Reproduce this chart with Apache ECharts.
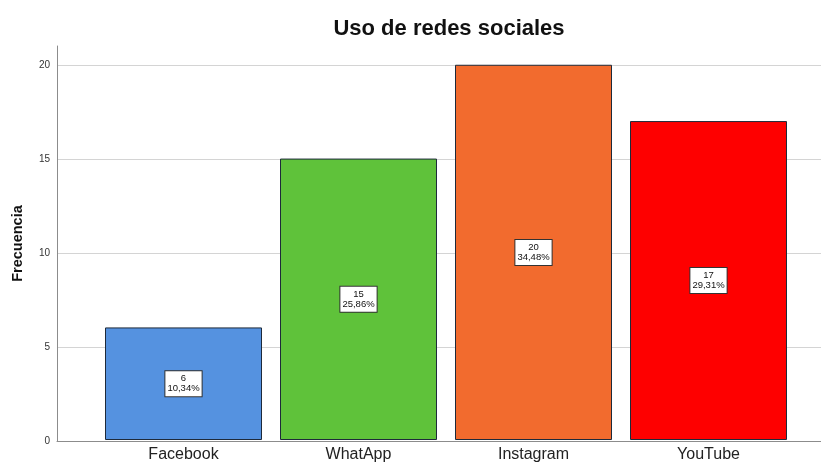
<!DOCTYPE html>
<html>
<head>
<meta charset="utf-8">
<script src="https://cdn.jsdelivr.net/npm/echarts@6/dist/echarts.min.js"></script>
<style>
html,body{margin:0;padding:0;background:#fff;}
#c{width:821px;height:463px;}
</style>
</head>
<body>
<div id="c"></div>
<script>
const categories = ["Facebook", "WhatApp", "Instagram", "YouTube"];
const counts = [6, 15, 20, 17];
const percents = ["10,34%", "25,86%", "34,48%", "29,31%"];
const colors = ["#5592e0", "#5fc23a", "#f26b2e", "#fe0000"];

const chart = echarts.init(document.getElementById('c'));
const font = '"Liberation Sans", Arial, sans-serif';
chart.setOption({
  animation: false,
  textStyle: {fontFamily: font},
  title: {
    text: "Uso de redes sociales",
    left: 444, top: 13, textAlign: 'center',
    textStyle: {fontSize: 22, fontWeight: 'bold', color: '#111', fontFamily: font}
  },
  grid: [
    {left: 57, right: 0, top: 46, bottom: 22},
    {left: 96, right: 25, top: 46, bottom: 22}
  ],
  xAxis: [
    {gridIndex: 0, type: 'value', min: 0, max: 1, show: true,
     axisLine: {show: true, onZero: false, lineStyle: {color: '#8c8c8c', width: 1}},
     axisTick: {show: false}, axisLabel: {show: false}, splitLine: {show: false}},
    {gridIndex: 1, type: 'category', data: categories,
     axisLine: {show: false}, axisTick: {show: false},
     axisLabel: {fontSize: 16, color: '#222', margin: 7, fontFamily: font}}
  ],
  yAxis: [
    {gridIndex: 0, type: 'value', min: 0, max: 21, interval: 5,
     name: 'Frecuencia', nameLocation: 'middle', nameGap: 32,
     nameTextStyle: {fontSize: 14.5, fontWeight: 'bold', color: '#111', fontFamily: font},
     axisLine: {show: true, lineStyle: {color: '#8c8c8c', width: 1}},
     axisTick: {show: false},
     axisLabel: {fontSize: 10, color: '#333', margin: 7, fontFamily: font,
                 showMaxLabel: false},
     splitLine: {show: true, showMaxLine: false, lineStyle: {color: '#d4d4d4', width: 1}}},
    {gridIndex: 1, type: 'value', min: 0, max: 21, interval: 5, show: false,
     splitLine: {show: false}}
  ],
  series: [{
    type: 'bar',
    xAxisIndex: 1, yAxisIndex: 1,
    barWidth: 157,
    data: counts.map((v, i) => ({
      value: v,
      itemStyle: {color: colors[i], borderColor: '#1e2a3a', borderWidth: 1}
    })),
    label: {
      show: true, position: 'inside',
      formatter: p => p.value + '\n' + percents[p.dataIndex],
      fontSize: 9.5, lineHeight: 10, color: '#111',
      backgroundColor: '#fff', borderColor: '#333', borderWidth: 1,
      padding: [3, 2, 2, 2], fontFamily: font
    }
  }]
});
</script>
</body>
</html>
